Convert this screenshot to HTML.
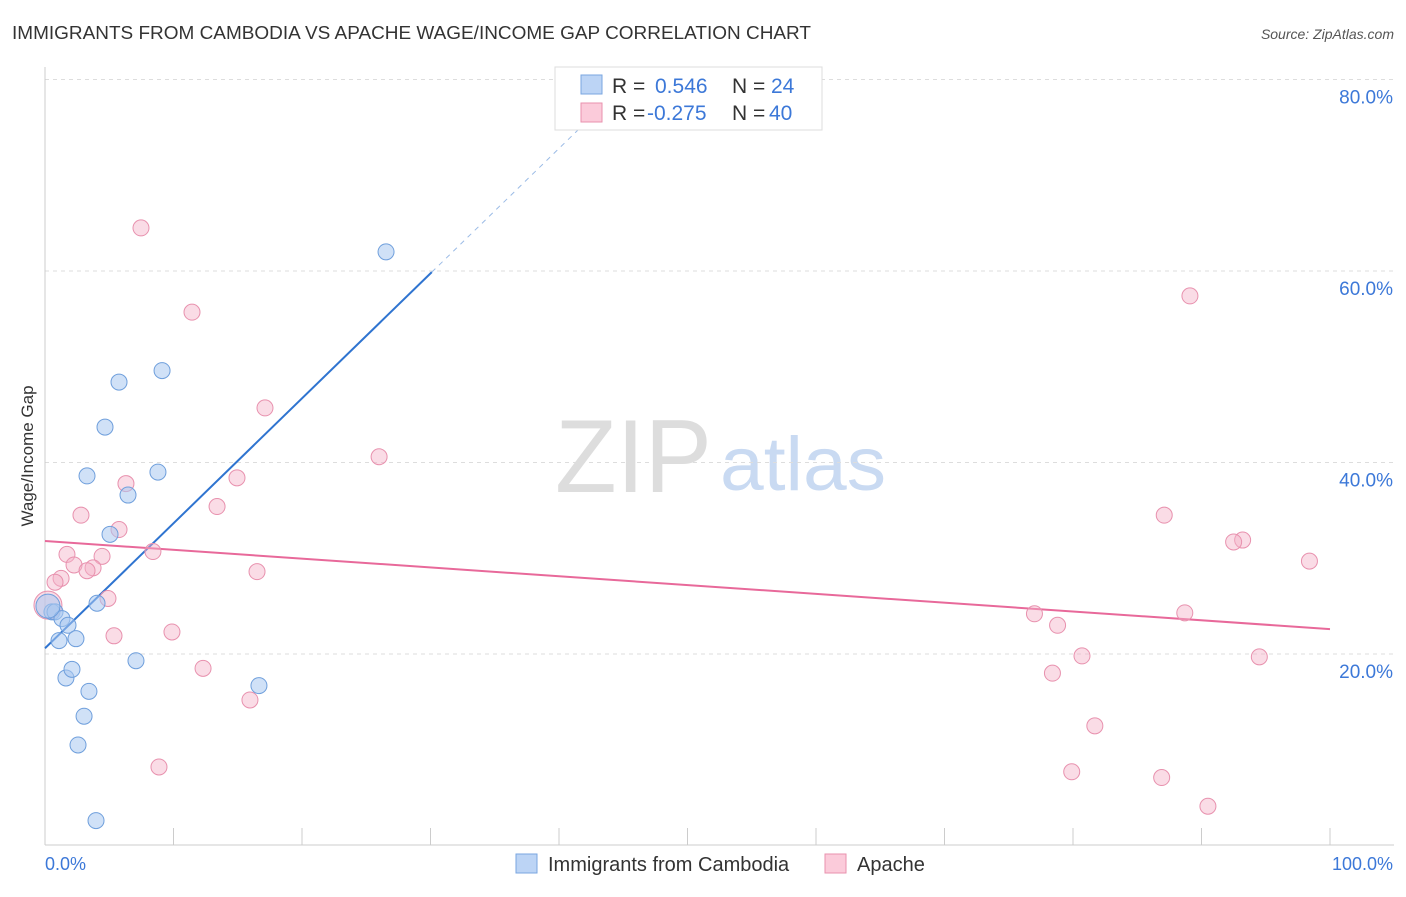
<!DOCTYPE html>
<html><head><meta charset="utf-8"><style>
body{margin:0;background:#fff;font-family:"Liberation Sans",sans-serif;}
svg text{font-family:"Liberation Sans",sans-serif;}
</style></head><body>
<svg id="chart" width="1406" height="892" xmlns="http://www.w3.org/2000/svg">
<text x="12" y="39" font-size="18" fill="#333" textLength="799" lengthAdjust="spacingAndGlyphs">IMMIGRANTS FROM CAMBODIA VS APACHE WAGE/INCOME GAP CORRELATION CHART</text>
<text x="1394" y="39" font-size="14" fill="#555" font-style="italic" text-anchor="end">Source: ZipAtlas.com</text>
<text transform="translate(33,456) rotate(-90)" font-size="17" fill="#333" text-anchor="middle">Wage/Income Gap</text>
<g>
<text x="555" y="492" font-size="104" fill="#ddd" font-family="Liberation Serif" textLength="157" lengthAdjust="spacingAndGlyphs">ZIP</text>
<text x="720" y="490" font-size="76" fill="#c9daf2" textLength="166" lengthAdjust="spacingAndGlyphs">atlas</text>
</g>
<g id="grid"></g><g id="axes"></g><g id="lines"></g><g id="points"></g>
<g>
<rect x="555" y="67" width="267" height="63" fill="#fff" stroke="#ddd"/>
<rect x="581" y="75" width="21" height="19" fill="#bcd4f5" stroke="#7aa6e0"/>
<text x="612" y="93" font-size="21" fill="#333">R = </text><text x="655" y="93" font-size="21" fill="#3c78d8">0.546</text>
<text x="732" y="93" font-size="21" fill="#333">N = </text><text x="771" y="93" font-size="21" fill="#3c78d8">24</text>
<rect x="581" y="103" width="21" height="19" fill="#fbcbda" stroke="#e891ae"/>
<text x="612" y="120" font-size="21" fill="#333">R = </text><text x="647" y="120" font-size="21" fill="#3c78d8">-0.275</text>
<text x="732" y="120" font-size="21" fill="#333">N = </text><text x="769" y="120" font-size="21" fill="#3c78d8">40</text>
</g>
<g>
<rect x="516" y="854" width="21" height="19" fill="#bcd4f5" stroke="#7aa6e0"/>
<text x="548" y="871" font-size="20" fill="#333">Immigrants from Cambodia</text>
<rect x="825" y="854" width="21" height="19" fill="#fbcbda" stroke="#e891ae"/>
<text x="857" y="871" font-size="20" fill="#333">Apache</text>
</g>
<text x="45" y="870" font-size="18" fill="#3c78d8">0.0%</text>
<text x="1393" y="870" font-size="18" fill="#3c78d8" text-anchor="end">100.0%</text>
</svg>
<script>
const yTicks=[20,40,60,80];
const yTickLabels=["20.0%","40.0%","60.0%","80.0%"];
const xTicks=[0,10,20,30,40,50,60,70,80,90,100];
const blueX=[0.54,0.78,1.09,1.32,1.63,1.79,2.10,2.41,2.57,3.04,3.27,3.42,3.97,4.05,4.67,5.06,5.76,6.46,7.08,8.79,9.11,16.65,26.54,0.23];
const blueY=[24.4,24.4,21.4,23.7,17.5,23.0,18.4,21.6,10.5,13.5,38.6,16.1,2.6,25.3,43.7,32.5,48.4,36.6,19.3,39.0,49.6,16.7,62.0,25.0];
const pinkX=[7.47,11.44,17.12,26.0,14.94,6.30,13.39,2.80,5.76,1.71,4.44,8.40,2.26,3.74,3.27,1.25,0.78,4.90,16.5,9.88,5.37,12.30,15.95,8.87,89.1,87.1,93.2,92.5,98.4,77.0,88.7,78.8,80.7,78.4,94.5,81.7,79.9,86.9,90.5,0.23];
const pinkY=[64.5,55.7,45.7,40.6,38.4,37.8,35.4,34.5,33.0,30.4,30.2,30.7,29.3,29.0,28.7,27.9,27.5,25.8,28.6,22.3,21.9,18.5,15.2,8.2,57.4,34.5,31.9,31.7,29.7,24.2,24.3,23.0,19.8,18.0,19.7,12.5,7.7,7.1,4.1,25.1];
const blueTrend=[20.6,1.305];
const pinkTrend=[31.8,-0.092];
const NS="http://www.w3.org/2000/svg";
const X=v=>45+v*12.85, Y=v=>845.5-v*9.575;
function mk(t,a,p){const e=document.createElementNS(NS,t);for(const k in a)e.setAttribute(k,a[k]);document.getElementById(p).appendChild(e);return e;}
yTicks.forEach((t,i)=>{
 const l=mk('line',{x1:45,x2:1394,y1:Y(t),y2:Y(t),stroke:'#ddd','stroke-dasharray':'4,4'},'grid');
 
 
 const tx=mk('text',{x:1393,y:Y(t)+24,'font-size':19,fill:'#3c78d8','text-anchor':'end'},'grid');
 tx.textContent=yTickLabels[i];
 
 
});
const ax=mk('line',{x1:45,x2:45,y1:67,y2:845,stroke:'#ccc'},'axes');


const bx=mk('line',{x1:45,x2:1394,y1:845,y2:845,stroke:'#ccc'},'axes');


xTicks.forEach(t=>{
 const l=mk('line',{x1:X(t),x2:X(t),y1:828,y2:845,stroke:'#ccc'},'axes');
 
 
});
const bEnd=30.1;
const bl=mk('line',{x1:X(0),y1:Y(blueTrend[0]),x2:X(bEnd),y2:Y(blueTrend[0]+blueTrend[1]*bEnd),stroke:'#2f74d0','stroke-width':2},'lines');


const dEnd=(80-blueTrend[0])/blueTrend[1];
const bd=mk('line',{x1:X(bEnd),y1:Y(blueTrend[0]+blueTrend[1]*bEnd),x2:X(dEnd),y2:Y(blueTrend[0]+blueTrend[1]*dEnd),stroke:'#9bbbe6','stroke-width':1,'stroke-dasharray':'5,5'},'lines');


const pl=mk('line',{x1:X(0),y1:Y(pinkTrend[0]),x2:X(100),y2:Y(pinkTrend[0]+pinkTrend[1]*100),stroke:'#e8699a','stroke-width':2},'lines');


pinkX.forEach((x,i)=>{
 const big=i===pinkX.length-1;
 const c=mk('circle',{cx:X(x),cy:Y(pinkY[i]),r:big?14:8,fill:'rgba(244,178,200,0.45)',stroke:'#e891ae','stroke-width':1},'points');
 
 
});
blueX.forEach((x,i)=>{
 const big=i===blueX.length-1;
 const c=mk('circle',{cx:X(x),cy:Y(blueY[i]),r:big?12:8,fill:'rgba(169,200,240,0.55)',stroke:'#6f9fdc','stroke-width':1},'points');
 
 
});
</script>
</body></html>
